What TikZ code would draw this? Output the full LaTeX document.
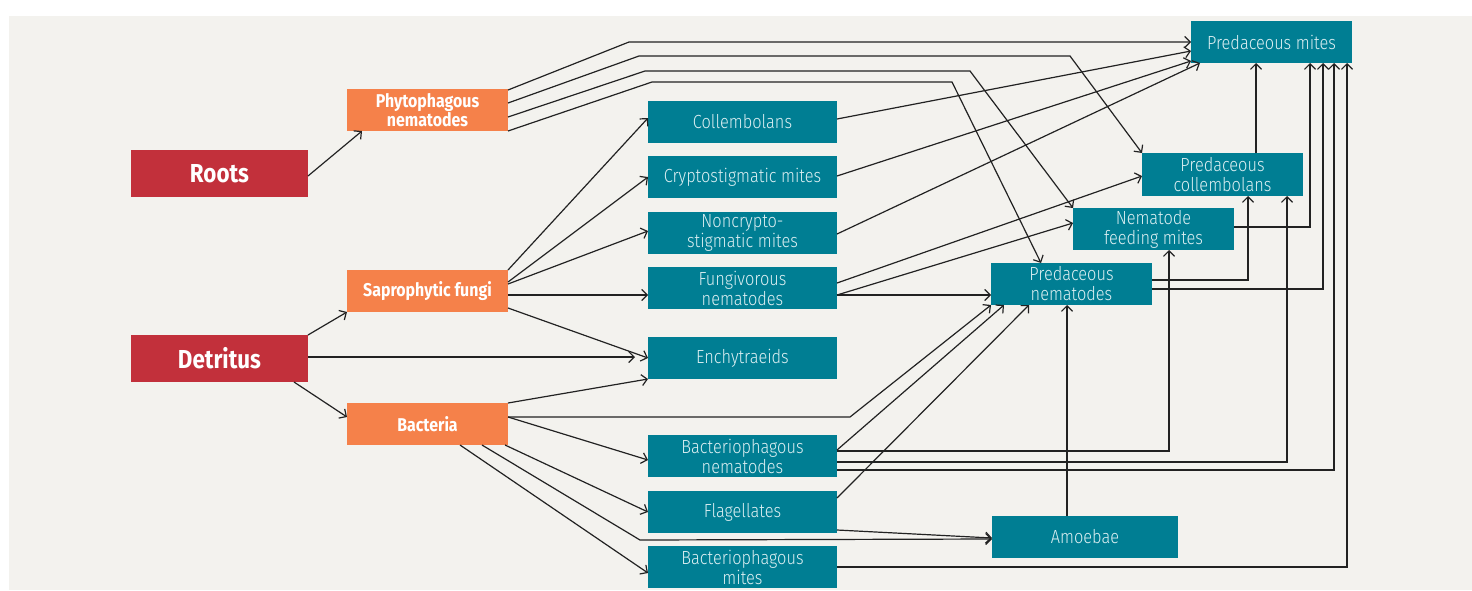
\documentclass[tikz,border=0pt]{standalone}
\usepackage{fontspec}
\setmainfont{Fira Sans}[FakeStretch=0.86]
\newfontfamily\lightfont{Fira Sans Light}[FakeStretch=0.86]
\usetikzlibrary{arrows.meta,calc}
\definecolor{panel}{HTML}{F3F2EE}
\definecolor{rootred}{HTML}{C2303B}
\definecolor{midorange}{HTML}{F5814A}
\definecolor{tealbox}{HTML}{007E93}
\definecolor{tealtext}{HTML}{DCEFF2}
\definecolor{linec}{HTML}{222222}
\tikzset{
  base/.style={inner sep=0pt, outer sep=0pt, align=center},
  srcbox/.style={base, fill=rootred, text=white, minimum width=177pt, minimum height=47pt,
    font=\fontsize{26}{28}\selectfont\bfseries},
  midbox/.style={base, fill=midorange, text=white, minimum width=161pt, minimum height=42pt,
    font=\fontsize{18.5}{19.5}\selectfont\bfseries},
  tealnode/.style={base, fill=tealbox, text=tealtext, minimum height=42pt,
    font=\lightfont\fontsize{19}{20}\selectfont},
  colbox/.style={tealnode, minimum width=189pt},
  predbox/.style={tealnode, minimum width=161pt},
  arr/.style={draw=linec, line width=1.2pt, line join=miter,
    -{Straight Barb[length=5.5pt,width=11pt]}},
}
\begin{document}
\begin{tikzpicture}[x=1pt,y=-1pt]
\useasboundingbox (0,0) rectangle (1472,590);
\fill[white] (0,0) rectangle (1472,590);
\fill[panel] (9,16) rectangle (1472,590);

% sources
\node[srcbox] (roots) at (219.5,173.5) {Roots};
\node[srcbox] (detritus) at (219.5,358.5) {Detritus};
% middle
\node[midbox] (phyto) at (427.5,110) {Phytophagous\\nematodes};
\node[midbox] (sapro) at (427.5,291) {Saprophytic fungi};
\node[midbox] (bacteria) at (427.5,424) {Bacteria};
% column of consumers
\node[colbox] (coll) at (742.5,122) {Collembolans};
\node[colbox] (crypt) at (742.5,177) {Cryptostigmatic mites};
\node[colbox] (noncrypt) at (742.5,233) {Noncrypto-\\stigmatic mites};
\node[colbox] (fungiv) at (742.5,288) {Fungivorous\\nematodes};
\node[colbox] (enchy) at (742.5,358) {Enchytraeids};
\node[colbox] (bactnem) at (742.5,456) {Bacteriophagous\\nematodes};
\node[colbox] (flag) at (742.5,512) {Flagellates};
\node[colbox] (bactmites) at (742.5,567) {Bacteriophagous\\mites};
% predators
\node[predbox] (predmites) at (1271.5,42) {Predaceous mites};
\node[predbox, minimum height=43pt] (predcoll) at (1222.5,174.5) {Predaceous\\collembolans};
\node[predbox] (nfm) at (1153.5,229) {Nematode\\feeding mites};
\node[predbox] (prednem) at (1071.5,284) {Predaceous\\nematodes};
\node[colbox, minimum width=186pt] (amoebae) at (1085,537) {Amoebae};

% sources -> middle
\draw[arr] (roots.east |- 0,176) -- (phyto.south -| 362,0);
\draw[arr] (detritus.north east) -- (sapro.south west);
\draw[arr, shorten >=13pt] (detritus.east |- 0,357) -- (enchy.west |- 0,357);
\draw[arr] (detritus.south -| 294,0) -- (bacteria.west |- 0,417);

% phytophagous nematodes
\draw[arr] (phyto.east |- 0,90) -- (629,42) -- (predmites.west |- 0,42);
\draw[arr] (phyto.east |- 0,103) -- (639,56) -- (1070,56) -- (predcoll.north west);
\draw[arr] (phyto.east |- 0,117) -- (645,71) -- (970,71) -- (nfm.north west);
\draw[arr] (phyto.east |- 0,131) -- (652,82) -- (952,82) -- (prednem.north -| 1041,0);

% saprophytic fungi
\draw[arr] (sapro.north east) -- (coll.west |- 0,118);
\draw[arr] (sapro.east |- 0,282) -- (crypt.west |- 0,177);
\draw[arr] (sapro.east |- 0,284) -- (noncrypt.west |- 0,231);
\draw[arr] (sapro.east |- 0,295) -- (fungiv.west |- 0,295);
\draw[arr] (sapro.east |- 0,308) -- (enchy.west |- 0,358);

% bacteria
\draw[arr] (bacteria.north east) -- (enchy.south west);
\draw[arr] (bacteria.east |- 0,417) -- (850,417) -- (prednem.south west);
\draw[arr] (bacteria.east |- 0,417) -- (bactnem.west |- 0,460);
\draw[arr] (bacteria.south -| 505,0) -- (flag.west |- 0,512);
\draw[arr] (bacteria.south -| 482,0) -- (640,540) -- (amoebae.west |- 0,539);
\draw[arr] (bacteria.south -| 460,0) -- (bactmites.west |- 0,573);

% column -> predators
\draw[arr] (coll.east |- 0,119) -- (predmites.west |- 0,51);
\draw[arr] (crypt.east |- 0,176) -- (predmites.west |- 0,61);
\draw[arr] (noncrypt.east |- 0,234) -- (predmites.south -| 1200,0);
\draw[arr] (fungiv.east |- 0,283) -- (predcoll.west |- 0,176);
\draw[arr] (fungiv.east |- 0,295) -- (nfm.west |- 0,223);
\draw[arr] (fungiv.east |- 0,295) -- (prednem.west |- 0,295);
\draw[arr] (bactnem.east |- 0,450) -- (prednem.south -| 1004,0);
\draw[arr] (bactnem.east |- 0,451) -| (nfm.south -| 1169,0);
\draw[arr] (bactnem.east |- 0,462) -| (predcoll.south -| 1287,0);
\draw[arr] (bactnem.east |- 0,470) -| (predmites.south -| 1334,0);
\draw[arr] (flag.east |- 0,498) -- (prednem.south -| 1029,0);
\draw[arr] (flag.east |- 0,530) -- (amoebae.west |- 0,538);
\draw[arr] (bactmites.east) -| (predmites.south -| 1347,0);

% predators -> predators
\draw[arr] (amoebae.north -| 1067,0) -- (prednem.south -| 1067,0);
\draw[arr] (nfm.east |- 0,227) -| (predmites.south -| 1310,0);
\draw[arr] (prednem.east |- 0,280) -| (predcoll.south -| 1248,0);
\draw[arr] (prednem.east |- 0,289) -| (predmites.south -| 1323,0);
\draw[arr] (predcoll.north -| 1256,0) -- (predmites.south -| 1256,0);
\end{tikzpicture}
\end{document}
